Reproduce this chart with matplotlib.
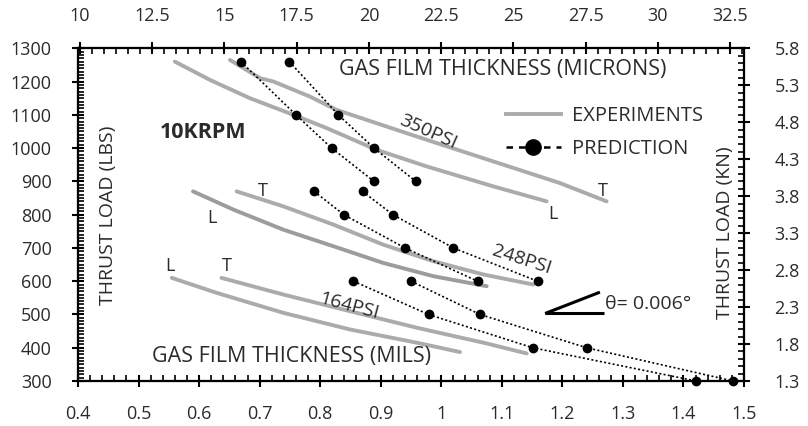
import numpy as np
import matplotlib
matplotlib.use("Agg")
import matplotlib.pyplot as plt
from matplotlib.lines import Line2D
from matplotlib.patches import Arc
from matplotlib.ticker import MultipleLocator, AutoMinorLocator, FuncFormatter

plt.rcParams['font.family'] = ['Open Sans', 'DejaVu Sans']

# predicted points (film thickness in mils, load in lbs)
pred_load_350 = [1260, 1100, 1000, 900]
pred_350_a = [0.669, 0.760, 0.819, 0.889]
pred_350_b = [0.749, 0.830, 0.889, 0.958]
pred_load_248 = [870, 800, 700, 600]
pred_248_a = [0.790, 0.839, 0.940, 1.060]
pred_248_b = [0.870, 0.920, 1.020, 1.159]
pred_load_164 = [600, 500, 400, 300]
pred_164_a = [0.855, 0.979, 1.151, 1.421]
pred_164_b = [0.950, 1.064, 1.240, 1.482]

# experiments, leading (L) and trailing (T) edge
exp_350_L_x = [0.560, 0.618, 0.684, 0.756, 0.811, 0.893, 0.976, 1.086, 1.174]
exp_350_L_y = [1260, 1205, 1150, 1100, 1060, 995, 945, 885, 840]
exp_350_T_x = [0.651, 0.701, 0.723, 0.783, 0.827, 0.893, 0.976, 1.086, 1.196, 1.273]
exp_350_T_y = [1265, 1210, 1200, 1155, 1115, 1075, 1025, 960, 895, 840]
exp_248_L_x = [0.590, 0.657, 0.739, 0.822, 0.904, 0.987, 1.075]
exp_248_L_y = [870, 815, 755, 705, 655, 615, 585]
exp_248_T_x = [0.662, 0.739, 0.822, 0.904, 0.987, 1.070, 1.152]
exp_248_T_y = [870, 825, 770, 710, 660, 620, 590]
exp_164_L_x = [0.555, 0.629, 0.739, 0.849, 0.960, 1.031]
exp_164_L_y = [610, 565, 505, 455, 415, 387]
exp_164_T_x = [0.637, 0.739, 0.849, 0.960, 1.070, 1.141]
exp_164_T_y = [610, 560, 510, 460, 415, 383]

txt = '#2b2b2b'
gray = '#ababab'

fig = plt.figure(figsize=(8.08, 4.26), dpi=100)
ax = fig.add_axes([0.0965, 0.1056, 0.8243, 0.781])
ax.set_xlim(0.4, 1.5)
ax.set_ylim(300, 1300)

for xs, ys, c in [(exp_350_L_x, exp_350_L_y, gray), (exp_350_T_x, exp_350_T_y, gray),
                  (exp_248_L_x, exp_248_L_y, '#9c9c9c'), (exp_248_T_x, exp_248_T_y, gray),
                  (exp_164_L_x, exp_164_L_y, gray), (exp_164_T_x, exp_164_T_y, gray)]:
    ax.plot(xs, ys, color=c, lw=2.8, solid_capstyle='round', zorder=2)

for xs, ys in [(pred_350_a, pred_load_350), (pred_350_b, pred_load_350),
               (pred_248_a, pred_load_248), (pred_248_b, pred_load_248),
               (pred_164_a, pred_load_164), (pred_164_b, pred_load_164)]:
    ax.plot(xs, ys, color='black', ls=(0, (1.2, 1.4)), lw=1.2, marker='o', ms=6,
            clip_on=False, zorder=3)

# edge labels
for s, x, y in [('T', 1.267, 872), ('L', 1.185, 803), ('T', 0.706, 870), ('L', 0.621, 790),
                ('L', 0.552, 645), ('T', 0.645, 645)]:
    ax.text(x, y, s, ha='center', va='center', fontsize=13, color=txt)

ax.text(0.979, 1050, '350PSI', rotation=-24, ha='center', va='center', fontsize=14, color=txt)
ax.text(1.133, 665, '248PSI', rotation=-18, ha='center', va='center', fontsize=14, color=txt)
ax.text(0.847, 525, '164PSI', rotation=-15, ha='center', va='center', fontsize=14, color=txt)
ax.text(0.6065, 1046, '10KRPM', ha='center', va='center', fontsize=15.5, fontweight='bold', color=txt)

ax.text(0.4496, 797, 'THRUST LOAD (LBS)', rotation=90, ha='center', va='center', fontsize=14, color=txt)
ax.text(1.469, 746, 'THRUST LOAD (KN)', rotation=90, ha='center', va='center', fontsize=14, color=txt)
ax.text(1.102, 1235, 'GAS FILM THICKNESS (MICRONS)', ha='center', va='center', fontsize=15.5, color=txt)
ax.text(0.752, 375, 'GAS FILM THICKNESS (MILS)', ha='center', va='center', fontsize=15.5, color=txt)

# taper angle sketch
ax.plot([1.1715, 1.268], [503, 503], color='black', lw=2.2, solid_capstyle='butt')
ax.plot([1.1715, 1.262], [503, 567], color='black', lw=2.2, solid_capstyle='butt')
ax.add_patch(Arc((1.1715, 503), 2 * 48 / 605.3, 2 * 48 / 0.3334, theta1=0, theta2=21,
                 color='black', lw=1.6))
ax.text(1.2706, 530, 'θ= 0.006°', ha='left', va='center', fontsize=14, color=txt)

handles = [Line2D([], [], color=gray, lw=2.8),
           Line2D([], [], color='black', ls=(0, (2.6, 2.4)), lw=1.8, marker='o', ms=11)]
ax.legend(handles, ['EXPERIMENTS', 'PREDICTION'], loc='upper left', bbox_to_anchor=(0.643, 0.826),
          frameon=False, fontsize=14.5, handlelength=2.7, handletextpad=0.55, labelspacing=0.64,
          borderpad=0, borderaxespad=0, labelcolor=txt)

# axes and ticks
fmt = FuncFormatter(lambda v, p: '%g' % round(v, 2))
ax.xaxis.set_major_locator(MultipleLocator(0.1))
ax.xaxis.set_minor_locator(AutoMinorLocator(5))
ax.yaxis.set_major_locator(MultipleLocator(100))
ax.yaxis.set_minor_locator(AutoMinorLocator(10))
ax.xaxis.set_major_formatter(fmt)

ax2 = ax.twinx()
ax2.set_ylim(1.3, 5.8)
ax2.set_yticks(np.arange(1.3, 5.81, 0.5))
ax2.yaxis.set_minor_locator(AutoMinorLocator(5))
ax2.yaxis.set_major_formatter(fmt)

ax3 = ax.twiny()
ax3.set_xlim(9.93, 32.98)
ax3.xaxis.set_major_locator(MultipleLocator(2.5))
ax3.xaxis.set_minor_locator(AutoMinorLocator(6))
ax3.xaxis.set_major_formatter(fmt)

for a in (ax, ax2, ax3):
    for sp in a.spines.values():
        sp.set_linewidth(1.5)
    a.tick_params(which='major', direction='inout', length=8, width=1.5,
                  labelsize=13, labelcolor=txt, pad=13)
    a.tick_params(which='minor', direction='in', length=4, width=1.2)

ax.tick_params(axis='y', which='major', pad=15)
ax2.tick_params(axis='y', which='major', pad=18)

fig.savefig('out.png', dpi=100)
